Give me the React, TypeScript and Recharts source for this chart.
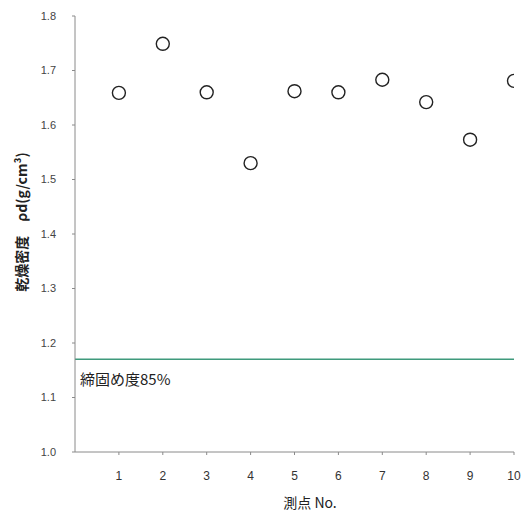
import React from 'react';
import { ScatterChart, Scatter, XAxis, YAxis, ReferenceLine } from 'recharts';

const points = [1, 2, 3, 4, 5, 6, 7, 8, 9, 10];
const density = [1.659, 1.749, 1.660, 1.530, 1.662, 1.660, 1.683, 1.642, 1.573, 1.681];
const yTicks = [1.0, 1.1, 1.2, 1.3, 1.4, 1.5, 1.6, 1.7, 1.8];
const compactionLimit = 1.17;
const compactionLabel = '締固め度85%';
const yLabel = '乾燥密度　ρd(g/cm³)';
const xLabel = '測点 No.';

const data = points.map((p, i) => ({ x: p, y: density[i] }));

const FONT = '"Liberation Sans", Arial, "Noto Sans CJK JP", sans-serif';
const JFONT = '"Noto Sans CJK JP", "Liberation Sans", sans-serif';

const Ring = (props: any) => {
  const { cx, cy } = props;
  if (cx == null || cy == null) return null;
  return <circle cx={cx} cy={cy} r={6.5} fill="#fff" stroke="#222" strokeWidth={1.4} />;
};

export default function App() {
  return (
    <div style={{ position: 'absolute', left: 0, top: 0, width: 526, height: 517, background: '#fff' }}>
      <ScatterChart width={526} height={517} margin={{ top: 16, right: 12, bottom: 35, left: 15 }}>
        <XAxis
          type="number"
          dataKey="x"
          domain={[0, 10]}
          ticks={points}
          interval={0}
          height={30}
          allowDataOverflow
          stroke="#8a8a8a"
          tickSize={3}
          tickMargin={16}
          tick={{ fill: '#333', fontSize: 12, fontFamily: FONT }}
          label={(props: any) => (
            <text x={310} y={502} textAnchor="middle" dominantBaseline="central" fill="#222" fontSize={14} fontFamily={JFONT}>
              {xLabel}
            </text>
          )}
        />
        <YAxis
          type="number"
          dataKey="y"
          domain={[1.0, 1.8]}
          ticks={yTicks}
          interval={0}
          width={60}
          stroke="#8a8a8a"
          tickSize={3}
          tickMargin={16}
          tickFormatter={(v: number) => v.toFixed(1)}
          tick={{ fill: '#444', fontSize: 11, fontFamily: FONT }}
          label={(props: any) => (
            <text
              x={21}
              y={222}
              transform="rotate(-90, 21, 222)"
              textAnchor="middle"
              dominantBaseline="central"
              fill="#222"
              fontSize={14}
              fontWeight="bold"
              fontFamily={JFONT}
            >
              {yLabel}
            </text>
          )}
        />
        <ReferenceLine
          y={compactionLimit}
          stroke="#3f9a7c"
          strokeWidth={1.5}
          label={(props: any) => {
            const vb = props.viewBox || {};
            return (
              <text x={(vb.x ?? 75) + 5} y={(vb.y ?? 360) + 19} dominantBaseline="central" fill="#222" fontSize={15} fontFamily={JFONT}>
                {compactionLabel}
              </text>
            );
          }}
        />
        <Scatter data={data} shape={Ring} isAnimationActive={false} />
      </ScatterChart>
    </div>
  );
}
